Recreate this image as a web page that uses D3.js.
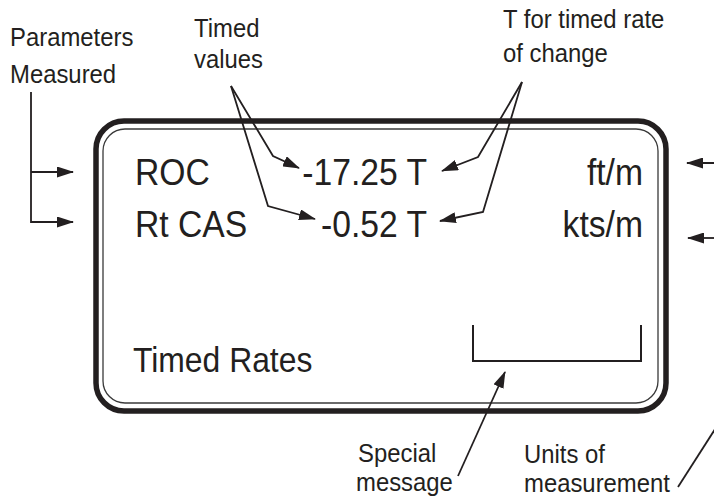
<!DOCTYPE html>
<html>
<head>
<meta charset="utf-8">
<script src="https://cdn.jsdelivr.net/npm/d3@7"></script>
<style>
  html, body { margin: 0; padding: 0; background: #fff; }
  text { font-family: "Liberation Sans", Arial, sans-serif; fill: #231f20; }
</style>
</head>
<body>
<div id="chart"></div>
<script>
// display content
const parameters = ["ROC", "Rt CAS"];
const timedValues = [-17.25, -0.52];
const rateFlag = ["T", "T"];
const units = ["ft/m", "kts/m"];
const modeLabel = "Timed Rates";

// callout labels
const calloutText = [
  ["Parameters", "Measured"],
  ["Timed", "values"],
  ["T for timed rate", "of change"],
  ["Special", "message"],
  ["Units of", "measurement"]
];

let dim = { width: 714, height: 500 };
const ink = "#231f20";
const squeeze = 0.91;   // the display face is a bit condensed

let svg = d3.select("#chart").append("svg")
  .attr("width", dim.width)
  .attr("height", dim.height);

// arrowhead
svg.append("defs").append("marker")
  .attr("id", "head")
  .attr("viewBox", "0 0 17 11")
  .attr("refX", 16).attr("refY", 5.5)
  .attr("markerWidth", 17).attr("markerHeight", 11)
  .attr("markerUnits", "userSpaceOnUse")
  .attr("orient", "auto")
  .append("path")
  .attr("d", "M0,0 L17,5.5 L0,11 Z")
  .attr("fill", ink);

// row positions inside the display
let rowY = d3.scalePoint()
  .domain(parameters)
  .range([185, 237]);

// display frame: outer thick + inner thin rounded rects
svg.append("rect")
  .attr("x", 96).attr("y", 121)
  .attr("width", 570).attr("height", 290)
  .attr("rx", 28).attr("ry", 28)
  .attr("fill", "none").attr("stroke", ink).attr("stroke-width", 5.5);

svg.append("rect")
  .attr("x", 103).attr("y", 129)
  .attr("width", 555).attr("height", 274)
  .attr("rx", 22).attr("ry", 22)
  .attr("fill", "none").attr("stroke", "#3a3a3a").attr("stroke-width", 1.3);

let big = 37;
let place = (x, y, s) => `translate(${x},${y}) scale(${s},1)`;

svg.selectAll("text.param")
  .data(parameters)
  .enter().append("text")
  .attr("class", "param")
  .attr("transform", d => place(135, rowY(d), squeeze))
  .attr("font-size", big)
  .text(d => d);

svg.selectAll("text.val")
  .data(timedValues)
  .enter().append("text")
  .attr("class", "val")
  .attr("transform", (d, i) => place(427, rowY(parameters[i]), squeeze))
  .attr("font-size", big)
  .attr("text-anchor", "end")
  .text((d, i) => d.toFixed(2) + " " + rateFlag[i]);

svg.selectAll("text.unit")
  .data(units)
  .enter().append("text")
  .attr("class", "unit")
  .attr("transform", (d, i) => place(643, rowY(parameters[i]), squeeze))
  .attr("font-size", big)
  .attr("text-anchor", "end")
  .text(d => d);

svg.append("text")
  .attr("transform", place(133, 372, squeeze))
  .attr("font-size", 35)
  .text(modeLabel);

// special message bracket
svg.append("path")
  .attr("d", d3.line()([[473, 325], [473, 361], [641, 361], [641, 325]]))
  .attr("fill", "none").attr("stroke", ink).attr("stroke-width", 2);

// callout labels
let labelPos = [
  { x: 10, y: 46, dy: 37 },
  { x: 194, y: 37, dy: 31 },
  { x: 503, y: 28, dy: 34 },
  { x: 358, y: 462, dy: 29 },
  { x: 524, y: 463, dy: 29 }
];

calloutText.forEach((lines, k) => {
  let p = labelPos[k];
  lines.forEach((s, j) => {
    let x = (k === 3 && j === 1) ? p.x - 2 : p.x;
    svg.append("text")
      .attr("class", "callout")
      .attr("transform", place(x, p.y + j * p.dy, 0.955))
      .attr("font-size", 25)
      .text(s);
  });
});

// leader lines
let leaders = [
  { pts: [[31, 92], [31, 222], [73, 222]], head: true },
  { pts: [[31, 172], [73, 172]], head: true },
  { pts: [[231, 86], [273, 156], [299, 168]], head: true },
  { pts: [[231, 86], [268, 206], [315, 219]], head: true },
  { pts: [[522, 82], [478, 157], [442, 171]], head: true },
  { pts: [[522, 82], [483, 212], [440, 221]], head: true },
  { pts: [[720, 163], [687, 163]], head: true },
  { pts: [[720, 238], [688, 238]], head: true },
  { pts: [[458, 476], [505, 372]], head: true },
  { pts: [[678, 487], [726, 412]], head: false }
];

svg.selectAll("path.leader")
  .data(leaders)
  .enter().append("path")
  .attr("class", "leader")
  .attr("d", d => d3.line()(d.pts))
  .attr("fill", "none")
  .attr("stroke", ink)
  .attr("stroke-width", 1.8)
  .attr("marker-end", d => d.head ? "url(#head)" : null);
</script>
</body>
</html>
